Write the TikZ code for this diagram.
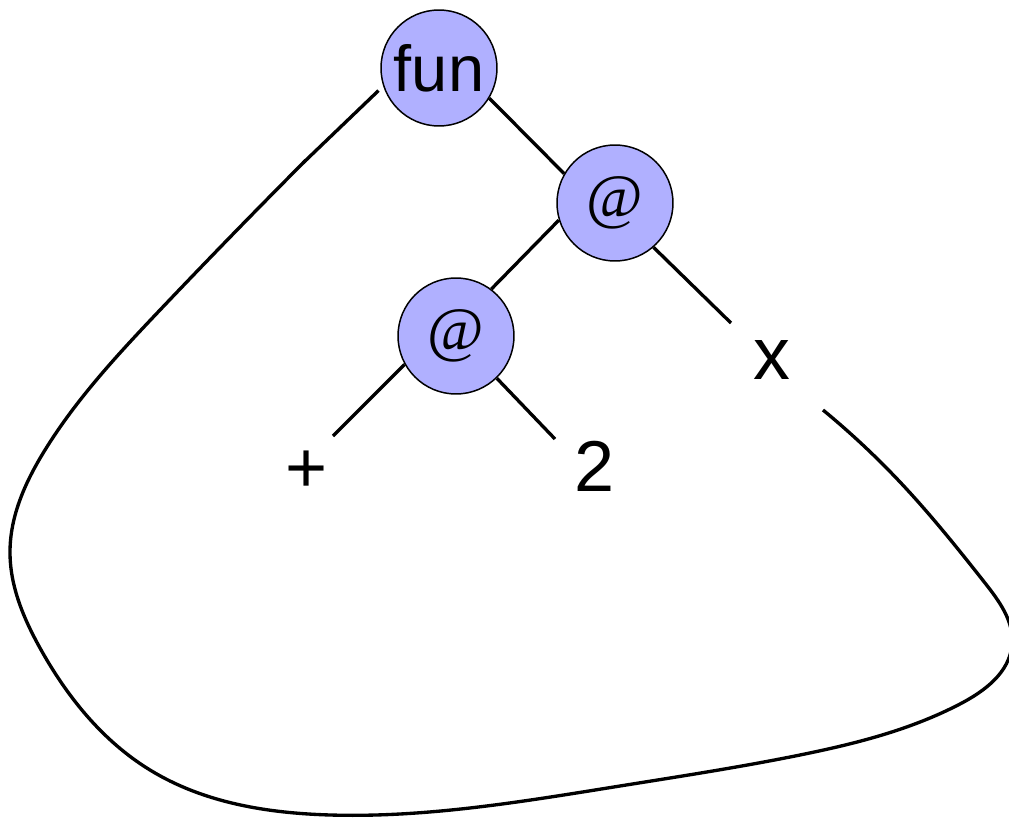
\documentclass[tikz,border=0pt]{standalone}
\usepackage{fontspec}
\usetikzlibrary{hobby}
\setmainfont{Liberation Sans}
\newfontfamily\atfont{Liberation Serif}
\definecolor{nodefill}{RGB}{176,176,255}
\begin{document}
\begin{tikzpicture}[x=0.02cm,y=-0.02cm,
  treenode/.style={circle,draw=black,line width=0.85pt,fill=nodefill,minimum size=2.32cm,inner sep=0pt},
  leaf/.style={inner sep=0pt},
  edge/.style={line width=1.9pt,line cap=butt}]
\useasboundingbox (0,0) rectangle (1009,818);
\node[treenode,font=\fontsize{37}{40}\selectfont] (fun) at (439,68) {fun};
\node[treenode,font=\atfont\fontsize{35}{38}\selectfont] (a1) at (615,203) {@};
\node[treenode,font=\atfont\fontsize{35}{38}\selectfont] (a2) at (456,336) {@};
\node[leaf,font=\fontsize{42}{44}\selectfont] (x) at (772,360) {x};
\node[leaf,font=\fontsize{41}{44}\selectfont] (plus) at (307,472) {+};
\node[leaf,font=\fontsize{41}{44}\selectfont] (two) at (595,466) {2};
\coordinate (xe) at (731,323);
\coordinate (pe) at (333,436);
\coordinate (te) at (555,439);
\coordinate (le) at (303,163);
\coordinate (cs) at (306,160);
\coordinate (ce) at (823,410);
\draw[edge] (fun.-31) -- (a1.150);
\draw[edge] (a1.197) -- (a2.53);
\draw[edge] (a1.-49) -- (xe);
\draw[edge] (a2.209) -- (pe);
\draw[edge] (a2.-46) -- (te);
\draw[edge,shorten <=0.13cm] (fun.198) -- (le);
\draw[edge,use Hobby shortcut] (cs) .. (160,310) .. (45,450) .. (10,552)
  .. (40,648) .. (150,770) .. (330,815) .. (620,786) .. (800,755)
  .. (960,704) .. (1012,645) .. (985,583) .. (900,482) .. (ce);
\end{tikzpicture}
\end{document}
